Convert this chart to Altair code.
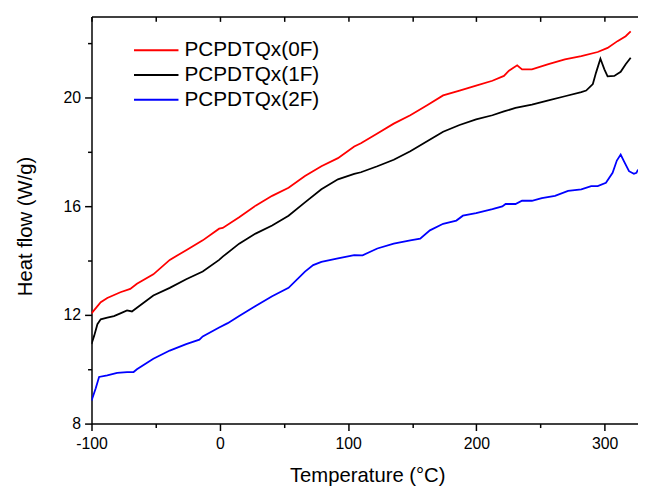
import altair as alt
import pandas as pd

series_names = ["PCPDTQx(0F)", "PCPDTQx(1F)", "PCPDTQx(2F)"]
series_colors = ["#ff0000", "#000000", "#0000ff"]

temp_0f = [-100, -92.8, -87.7, -77.5, -69.8, -64.6, -51.8, -39, -26.2, -13.3, -0.5, 2.3, 15.1, 27.9,
           40.8, 53.6, 66.4, 79.2, 92.1, 104.8, 110, 122.8, 135.6, 148.5, 161.3, 174.1, 186.9, 199.8,
           212.5, 221.5, 225.4, 231.8, 235.6, 243.3, 256.2, 269, 281.8, 294.6, 302.3, 310, 316.4, 320.3]
hf_0f = [12.06, 12.47, 12.63, 12.84, 12.96, 13.15, 13.5, 14.03, 14.39, 14.75, 15.18, 15.21, 15.6, 16.03,
         16.39, 16.69, 17.12, 17.48, 17.78, 18.21, 18.33, 18.69, 19.05, 19.36, 19.72, 20.09, 20.27, 20.45,
         20.63, 20.81, 21.0, 21.2, 21.05, 21.05, 21.24, 21.42, 21.54, 21.69, 21.84, 22.09, 22.27, 22.45]

temp_1f = [-100, -97.9, -95.4, -92.8, -87.7, -82.5, -77.5, -72.3, -68.5, -64.6, -51.8, -39, -26.2, -13.3,
           -0.5, 2.3, 15.1, 27.9, 40.8, 53.6, 66.4, 79.2, 92.1, 104.8, 110, 122.8, 135.6, 148.5, 161.3,
           174.1, 186.9, 199.8, 212.5, 221.5, 230.5, 243.3, 256.2, 269, 281.8, 285.6, 290.8, 293.3, 296.7,
           299.8, 302.3, 307.5, 312.5, 316.4, 320.3]
hf_1f = [10.93, 11.24, 11.66, 11.84, 11.9, 11.96, 12.06, 12.17, 12.13, 12.27, 12.72, 13.0, 13.32, 13.6,
         14.03, 14.15, 14.63, 15.0, 15.3, 15.66, 16.15, 16.63, 17.0, 17.2, 17.26, 17.48, 17.72, 18.03, 18.39,
         18.75, 19.0, 19.21, 19.36, 19.5, 19.63, 19.75, 19.91, 20.06, 20.21, 20.27, 20.51, 20.93, 21.44,
         21.05, 20.79, 20.81, 20.96, 21.24, 21.48]

temp_2f = [-100, -96.7, -94.1, -87.7, -80, -72.3, -67.2, -64.6, -51.8, -39, -26.2, -15.9, -13.3, -0.5,
           6.2, 15.1, 27.9, 40.8, 53.6, 66.4, 72.8, 79.2, 92.1, 104.8, 111.3, 122.8, 135.6, 148.5, 156.2,
           163.8, 174.1, 184.4, 189.5, 199.8, 212.5, 220.2, 222.8, 230.5, 235.6, 243.3, 251, 261.3, 271.5,
           281.8, 289.5, 294.6, 301, 306.2, 309.5, 312.5, 315.1, 319, 322.8, 324.8, 326]
hf_2f = [8.84, 9.3, 9.72, 9.78, 9.87, 9.9, 9.9, 10.0, 10.39, 10.69, 10.93, 11.09, 11.21, 11.54,
         11.7, 11.96, 12.33, 12.69, 13.0, 13.6, 13.84, 13.96, 14.09, 14.21, 14.2, 14.45, 14.63, 14.75, 14.81,
         15.12, 15.36, 15.48, 15.66, 15.75, 15.9, 16.0, 16.09, 16.09, 16.21, 16.21, 16.31, 16.39, 16.57,
         16.63, 16.75, 16.75, 16.87, 17.24, 17.69, 17.91, 17.66, 17.3, 17.2, 17.24, 17.36]

x_ticks = [-100, -50, 0, 50, 100, 150, 200, 250, 300]
y_ticks = [8, 10, 12, 14, 16, 18, 20, 22]

rows = []
for name, ts, hs in zip(series_names, [temp_0f, temp_1f, temp_2f], [hf_0f, hf_1f, hf_2f]):
    for i, (t, h) in enumerate(zip(ts, hs)):
        rows.append({"series": name, "T": t, "H": h, "order": i})
df = pd.DataFrame(rows)
ticks_df = pd.DataFrame({"T": x_ticks})

FONT = "Arial, Liberation Sans, sans-serif"
x_dom = [-100, 326]
y_dom = [8, 23]

lines = alt.Chart(df).mark_line(strokeWidth=1.8, clip=True).encode(
    x=alt.X("T:Q", scale=alt.Scale(domain=x_dom, nice=False, zero=False),
            axis=alt.Axis(values=x_ticks, title="Temperature (°C)",
                          labelExpr="datum.value % 100 == 0 ? '' + datum.value : ''",
                          tickSize={"condition": {"test": "datum.value % 100 == 0", "value": 7}, "value": 4},
                          labelFlush=False, labelOverlap=False,
                          labelPadding=5, titleX=279, titleY=59, titleBaseline="alphabetic")),
    y=alt.Y("H:Q", scale=alt.Scale(domain=y_dom, nice=False, zero=False),
            axis=alt.Axis(values=y_ticks, title="Heat flow (W/g)",
                          labelExpr="datum.value % 4 == 0 ? '' + datum.value : ''",
                          tickSize={"condition": {"test": "datum.value % 4 == 0", "value": 7}, "value": 4},
                          labelFlush=False, labelOverlap=False,
                          labelPadding=4, titleX=-61, titleY=212, titleBaseline="alphabetic",
                          titleAlign="center")),
    color=alt.Color("series:N", scale=alt.Scale(domain=series_names, range=series_colors),
                    legend=alt.Legend(title=None, orient="none", legendX=42, legendY=22,
                                      symbolType="stroke", symbolSize=2025, symbolStrokeWidth=2,
                                      labelFontSize=21, labelFont=FONT, labelColor="black",
                                      clipHeight=24.5, rowPadding=0, labelOffset=5, padding=0)),
    order="order:Q",
)

top = alt.Chart(ticks_df).mark_rule(opacity=0).encode(
    x=alt.X("T:Q", scale=alt.Scale(domain=x_dom, nice=False, zero=False),
            axis=alt.Axis(orient="top", values=x_ticks, labels=False, title=None,
                          tickSize={"expr": "-5"}, domain=True)),
)

chart = alt.layer(lines, top).resolve_scale(x="independent").properties(
    width=553, height=412,
    autosize="none",
    padding={"left": 84.5, "top": 5.7, "right": 0, "bottom": 60},
).configure_view(stroke=None).configure_axis(
    domainColor="black", domainWidth=1.5, tickColor="black", tickWidth=1.5,
    labelFont=FONT, labelFontSize=16, labelColor="black",
    titleFont=FONT, titleFontSize=20.5, titleFontWeight="normal", titleColor="black",
    grid=False,
)

chart.save("out.html", embed_options={"renderer": "svg", "actions": False})
